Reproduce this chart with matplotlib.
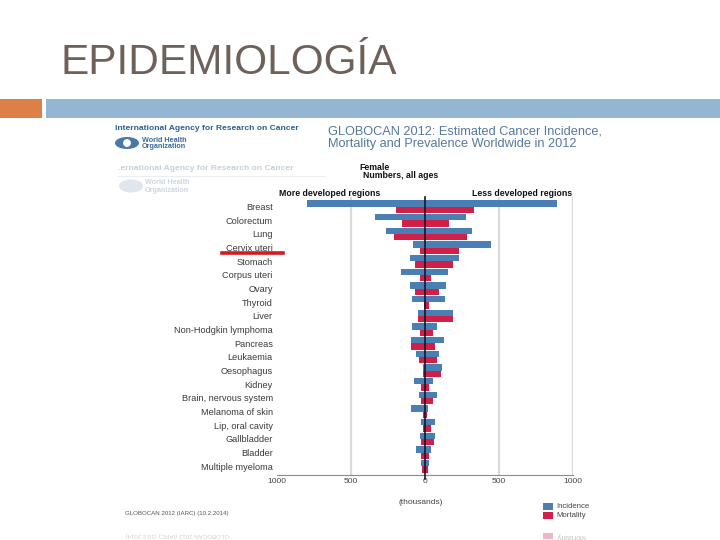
import matplotlib
matplotlib.use("Agg")
import matplotlib.pyplot as plt
from matplotlib.patches import Rectangle, Ellipse
import numpy as np

plt.rcParams['font.family'] = ['Liberation Sans', 'DejaVu Sans']

categories = ["Breast", "Colorectum", "Lung", "Cervix uteri", "Stomach", "Corpus uteri",
              "Ovary", "Thyroid", "Liver", "Non-Hodgkin lymphoma", "Pancreas", "Leukaemia",
              "Oesophagus", "Kidney", "Brain, nervous system", "Melanoma of skin",
              "Lip, oral cavity", "Gallbladder", "Bladder", "Multiple myeloma"]
# thousands, female, 2012
inc_more = [795, 340, 264, 79, 101, 164, 101, 88, 45, 88, 92, 61, 16, 74, 38, 92, 29, 34, 61, 29]
inc_less = [890, 277, 318, 448, 228, 155, 142, 137, 191, 83, 128, 97, 115, 52, 79, 20, 70, 70, 43, 25]
mort_more = [196, 155, 209, 34, 68, 34, 65, 7, 44, 34, 92, 38, 11, 25, 29, 16, 11, 25, 25, 20]
mort_less = [331, 164, 286, 232, 191, 43, 92, 25, 186, 52, 70, 79, 106, 29, 56, 11, 43, 61, 25, 20]
xticks = [-1000, -500, 0, 500, 1000]
xticklabels = ["1000", "500", "0", "500", "1000"]

W, H = 720, 540
fig = plt.figure(figsize=(7.2, 5.4), dpi=100)
fig.patch.set_facecolor("white")

def P(x, y):
    return (x / W, 1 - y / H)

# ---- slide decoration ----
fig.text(*P(60, 73.5), "EPIDEMIOLOGÍA", fontsize=30.5, color="#6e615a", va="baseline", ha="left")
fig.patches.append(Rectangle(P(0, 118), 42 / W, 19 / H, transform=fig.transFigure,
                             facecolor="#dd8047", edgecolor="none"))
fig.patches.append(Rectangle(P(46, 118), 674 / W, 19 / H, transform=fig.transFigure,
                             facecolor="#94b6d2", edgecolor="none"))

# ---- chart header ----
fig.text(*P(115, 128), "International Agency for Research on Cancer", fontsize=6.1,
         fontweight="bold", color="#2f5f8f", va="center", ha="left")
fig.add_artist(Ellipse(P(127, 143), 24 / W, 12 / H, transform=fig.transFigure,
                       facecolor="#4a78a8", edgecolor="none"))
fig.add_artist(Ellipse(P(127, 143), 9 / W, 9 / H, transform=fig.transFigure,
                       facecolor="white", edgecolor="#4a78a8", lw=0.8))
fig.text(*P(142, 140), "World Health", fontsize=5.2, fontweight="bold", color="#3a6a9a",
         va="center", ha="left")
fig.text(*P(142, 147), "Organization", fontsize=5.2, fontweight="bold", color="#3a6a9a",
         va="center", ha="left")
fig.text(*P(328, 131), "GLOBOCAN 2012: Estimated Cancer Incidence,", fontsize=9.2,
         color="#56789a", va="center", ha="left")
fig.text(*P(328, 144), "Mortality and Prevalence Worldwide in 2012", fontsize=9.2,
         color="#56789a", va="center", ha="left")

# faded duplicate header
fig.text(*P(118, 168), ".ernational Agency for Research on Cancer", fontsize=6.1,
         fontweight="bold", color="#c5d0dc", va="center", ha="left")
fig.add_artist(plt.Line2D([118 / W, 325 / W], [1 - 176 / H, 1 - 176 / H],
                          transform=fig.transFigure, color="#e6ebf0", lw=0.6))
fig.add_artist(Ellipse(P(131, 186), 24 / W, 13 / H, transform=fig.transFigure,
                       facecolor="#dfe6ee", edgecolor="none"))
fig.text(*P(145, 183), "World Health", fontsize=5.2, fontweight="bold", color="#ccd6e0",
         va="center", ha="left")
fig.text(*P(145, 190), "Organization", fontsize=5.2, fontweight="bold", color="#ccd6e0",
         va="center", ha="left")

fig.text(*P(374, 167), "Female", fontsize=6.3, fontweight="bold", color="#111111",
         va="center", ha="center")
fig.text(*P(401, 176), "Numbers, all ages", fontsize=6.3, fontweight="bold", color="#111111",
         va="center", ha="center")
fig.text(*P(279, 194), "More developed regions", fontsize=6.3, fontweight="bold",
         color="#111111", va="center", ha="left")
fig.text(*P(572, 194), "Less developed regions", fontsize=6.3, fontweight="bold",
         color="#111111", va="center", ha="right")

# ---- main chart ----
ax = fig.add_axes([277 / W, (H - 475) / H, 296 / W, 278 / H])
ax.set_facecolor("none")
y = np.arange(len(categories))
inc_more_a = np.array(inc_more)
inc_less_a = np.array(inc_less)
mort_more_a = np.array(mort_more)
mort_less_a = np.array(mort_less)

for gx in [-500, 500, 1000]:
    ax.axvline(gx, color="#dadada", lw=1.6, zorder=0)

ax.barh(y - 0.22, inc_more_a + inc_less_a, left=-inc_more_a, height=0.46,
        color="#4a7fb3", edgecolor="none", zorder=2)
ax.barh(y + 0.24, mort_more_a + mort_less_a, left=-mort_more_a, height=0.48,
        color="#d21f48", edgecolor="none", zorder=3)
ax.plot([0, 0], [-0.7, 19.95], color="#10182a", lw=1.2, zorder=4, clip_on=False)

ax.set_xlim(-1000, 1000)
ax.set_ylim(19.64, -0.695)
ax.set_yticks(y)
ax.set_yticklabels(categories, fontsize=6.6, color="#3a3a3a")
ax.set_xticks(xticks)
ax.set_xticklabels(xticklabels, fontsize=6.0, color="#444444")
ax.tick_params(axis="y", length=0, pad=3)
ax.tick_params(axis="x", length=0, pad=2.5)
for s in ["top", "right", "left"]:
    ax.spines[s].set_visible(False)
ax.spines["bottom"].set_color("#8a8a8a")
ax.spines["bottom"].set_linewidth(0.8)

# red underline on Cervix uteri
fig.add_artist(plt.Line2D([222 / W, 283 / W], [1 - 252.5 / H, 1 - 252.5 / H],
                          transform=fig.transFigure, color="#d41a1f", lw=2.6))

fig.text(*P(421, 502), "(thousands)", fontsize=6.0, color="#444444", va="center", ha="center")

# legend
fig.patches.append(Rectangle(P(543, 510), 10 / W, 7 / H, transform=fig.transFigure,
                             facecolor="#4a7fb3", edgecolor="none"))
fig.text(*P(556, 506.5), "Incidence", fontsize=5.6, color="#444444", va="center", ha="left")
fig.patches.append(Rectangle(P(543, 519), 10 / W, 7 / H, transform=fig.transFigure,
                             facecolor="#d21f48", edgecolor="none"))
fig.text(*P(556, 515.5), "Mortality", fontsize=5.6, color="#444444", va="center", ha="left")
fig.patches.append(Rectangle(P(543, 539), 10 / W, 6 / H, transform=fig.transFigure,
                             facecolor="#f0b8c6", edgecolor="none"))
fig.text(*P(556, 536), "Mortality", fontsize=5.6, color="#c8c8c8", va="center", ha="left",
         rotation=180)

fig.text(*P(125, 514), "GLOBOCAN 2012 (IARC) (10.2.2014)", fontsize=4.4, color="#555555",
         va="center", ha="left")
fig.text(*P(125, 535), "GLOBOCAN 2012 (IARC) (10.2.2014)", fontsize=4.4, color="#d0d0d0",
         va="center", ha="left", rotation=180)

fig.savefig("out.png", dpi=100, facecolor="white")
